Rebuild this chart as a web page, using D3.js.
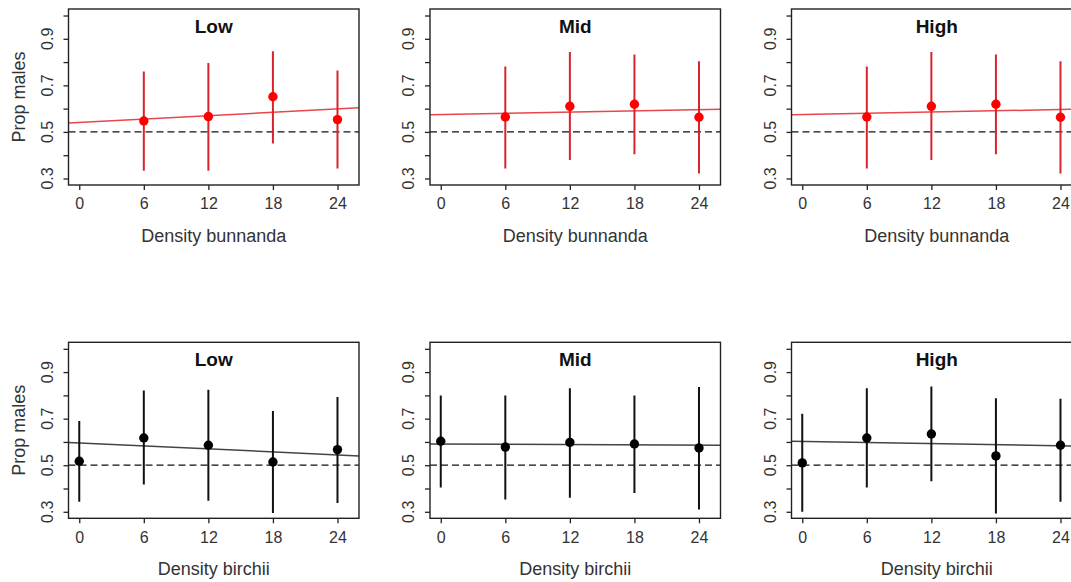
<!DOCTYPE html>
<html>
<head>
<meta charset="utf-8">
<script src="https://cdn.jsdelivr.net/npm/d3@7"></script>
<style>
  body { margin: 0; background: #fff; }
  text { font-family: "Liberation Sans", Arial, sans-serif; fill: #333; }
</style>
</head>
<body>
<div id="my_dataviz"></div>
<script>
// data
var levels = ["Low", "Mid", "High"];
var yTicks = [0.3, 0.4, 0.5, 0.6, 0.7, 0.8, 0.9, 1.0];
var yLabels = [0.3, 0.5, 0.7, 0.9];
var xTicks = [0, 6, 12, 18, 24];

// top row: density bunnanda (red)
var densBunnanda = [6, 12, 18, 24];
var bunMean  = [[0.547, 0.566, 0.651, 0.553], [0.564, 0.610, 0.619, 0.563], [0.564, 0.610, 0.619, 0.563]];
var bunLower = [[0.333, 0.333, 0.450, 0.343], [0.343, 0.379, 0.404, 0.321], [0.343, 0.379, 0.404, 0.321]];
var bunUpper = [[0.760, 0.796, 0.847, 0.764], [0.781, 0.843, 0.833, 0.804], [0.781, 0.843, 0.833, 0.804]];
var bunFit   = [[0.538, 0.604], [0.574, 0.597], [0.574, 0.598]];

// bottom row: density birchii (black)
var densBirchii = [0, 6, 12, 18, 24];
var birMean  = [[0.517, 0.617, 0.586, 0.514, 0.567], [0.603, 0.578, 0.598, 0.591, 0.574], [0.510, 0.617, 0.634, 0.540, 0.586]];
var birLower = [[0.343, 0.417, 0.347, 0.295, 0.338], [0.404, 0.353, 0.360, 0.381, 0.310], [0.300, 0.404, 0.431, 0.293, 0.343]];
var birUpper = [[0.690, 0.821, 0.824, 0.733, 0.793], [0.800, 0.800, 0.831, 0.800, 0.836], [0.721, 0.831, 0.838, 0.788, 0.786]];
var birFit   = [[0.598, 0.540], [0.591, 0.586], [0.603, 0.582]];

var fitX = [-1, 26];

var W = 1071, H = 582;
var colStep = 361.5, rowStep = 333.3;
var boxLeft = 68.5, boxTop = 9, boxW = 290.5, boxH = 176;

var svg = d3.select("#my_dataviz")
    .append("svg")
    .attr("width", W)
    .attr("height", H);

var rows = [
    {dens: densBunnanda, mean: bunMean, lower: bunLower, upper: bunUpper, fit: bunFit,
     xlab: "Density bunnanda", pt: "#ff0000", bar: "#d8242b", line: "#e8474c"},
    {dens: densBirchii, mean: birMean, lower: birLower, upper: birUpper, fit: birFit,
     xlab: "Density birchii", pt: "#000", bar: "#111", line: "#444"}
];

var x = d3.scaleLinear().domain([-1, 26]).range([0, boxW]);
var y = d3.scaleLinear().domain([0.272, 1.028]).range([boxH, 0]);

rows.forEach(function(row, r) {
    levels.forEach(function(lev, c) {
        var g = svg.append("g")
            .attr("transform", "translate(" + (boxLeft + c * colStep) + "," + (boxTop + r * rowStep) + ")");

        var clipId = "clip" + r + c;
        g.append("clipPath").attr("id", clipId)
            .append("rect").attr("width", boxW).attr("height", boxH);
        var plot = g.append("g").attr("clip-path", "url(#" + clipId + ")");

        // reference line at 0.5
        plot.append("line")
            .attr("x1", 0).attr("x2", boxW)
            .attr("y1", y(0.5)).attr("y2", y(0.5))
            .attr("stroke", "#111")
            .attr("stroke-width", 1.3)
            .attr("stroke-dasharray", "7,4");

        // fitted line
        plot.append("line")
            .attr("x1", x(fitX[0])).attr("x2", x(fitX[1]))
            .attr("y1", y(row.fit[c][0])).attr("y2", y(row.fit[c][1]))
            .attr("stroke", row.line)
            .attr("stroke-width", 1.5);

        var pts = row.dens.map(function(d, i) {
            return {d: d, m: row.mean[c][i], lo: row.lower[c][i], hi: row.upper[c][i]};
        });

        // error bars
        plot.selectAll(".bar")
            .data(pts)
            .enter().append("line")
            .attr("x1", function(d) { return x(d.d); })
            .attr("x2", function(d) { return x(d.d); })
            .attr("y1", function(d) { return y(d.lo); })
            .attr("y2", function(d) { return y(d.hi); })
            .attr("stroke", row.bar)
            .attr("stroke-width", 2);

        // points
        plot.selectAll(".pt")
            .data(pts)
            .enter().append("circle")
            .attr("cx", function(d) { return x(d.d); })
            .attr("cy", function(d) { return y(d.m); })
            .attr("r", 4.7)
            .attr("fill", row.pt);

        // box
        g.append("rect")
            .attr("width", boxW).attr("height", boxH)
            .attr("fill", "none")
            .attr("stroke", "#222")
            .attr("stroke-width", 1.4);

        // y axis
        var yAxis = g.append("g")
            .call(d3.axisLeft(y).tickValues(yTicks).tickSize(5).tickFormat(""));
        yAxis.select(".domain").remove();
        yAxis.selectAll("line").attr("stroke", "#222").attr("stroke-width", 1.3);
        g.selectAll(".ylab")
            .data(yLabels)
            .enter().append("text")
            .attr("transform", function(d) { return "translate(-16," + y(d) + ") rotate(-90)"; })
            .attr("text-anchor", "middle")
            .style("font-size", "16px")
            .text(function(d) { return d3.format(".1f")(d); });

        // x axis
        var xAxis = g.append("g")
            .attr("transform", "translate(0," + boxH + ")")
            .call(d3.axisBottom(x).tickValues(xTicks).tickSize(5).tickPadding(8));
        xAxis.select(".domain").remove();
        xAxis.selectAll("line").attr("stroke", "#222").attr("stroke-width", 1.3);
        xAxis.selectAll("text")
            .style("font-size", "16px")
            .style("font-family", "Liberation Sans, Arial, sans-serif")
            .attr("fill", "#333");

        // axis label
        g.append("text")
            .attr("x", boxW / 2)
            .attr("y", boxH + 57)
            .attr("text-anchor", "middle")
            .style("font-size", "18px")
            .text(row.xlab);

        if (c === 0) {
            g.append("text")
                .attr("transform", "translate(-44," + (boxH / 2) + ") rotate(-90)")
                .attr("text-anchor", "middle")
                .style("font-size", "18px")
                .text("Prop males");
        }

        // title
        g.append("text")
            .attr("x", boxW / 2)
            .attr("y", 24)
            .attr("text-anchor", "middle")
            .style("font-size", "19px")
            .style("font-weight", "bold")
            .style("fill", "#111")
            .text(lev);
    });
});
</script>
</body>
</html>
